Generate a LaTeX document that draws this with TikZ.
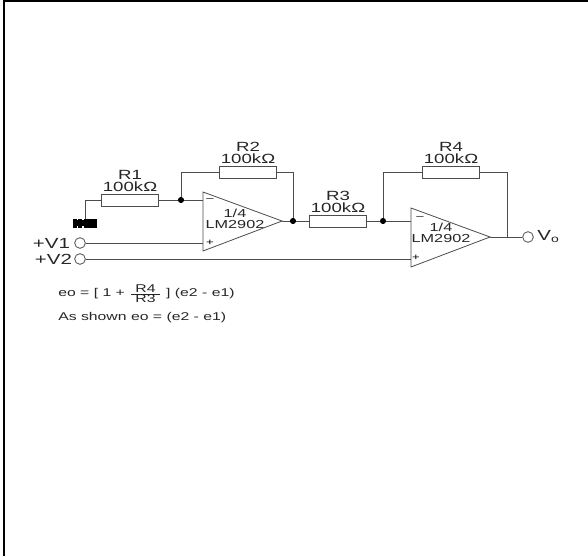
\documentclass[tikz,border=0pt]{standalone}
\usepackage{fontspec}
\setmainfont[FakeStretch=1.4]{Liberation Sans}
\usetikzlibrary{positioning, calc}
\tikzset{
    resistor/.style={
        rectangle,
        draw=black!70,
        line width=0.7pt,
        minimum width=43pt,
        minimum height=9pt,
        inner sep=0pt,
        fill=white
    },
    opamp/.style={
        draw=black!70,
        line width=0.6pt,
        fill=white
    },
    wire/.style={
        draw=black!70,
        line width=0.7pt
    },
    terminal/.style={
        circle,
        draw=black!70,
        line width=0.6pt,
        minimum size=8pt,
        inner sep=0pt,
        fill=white
    },
    junction/.style={
        circle,
        fill=black,
        minimum size=4.6pt,
        inner sep=0pt
    },
    reslabel/.style={
        font=\fontsize{10}{8.8}\selectfont,
        text=black!85,
        align=center,
        inner sep=0pt
    },
    amplabel/.style={
        font=\fontsize{8.7}{8.2}\selectfont,
        text=black!85,
        align=center,
        inner sep=0pt
    },
    pinlabel/.style={
        font=\fontsize{11}{11}\selectfont,
        text=black!85,
        inner sep=0pt
    },
    signlabel/.style={
        font=\fontsize{7}{7}\selectfont,
        inner sep=0pt
    },
    eqn/.style={
        font=\fontsize{8.45}{8.45}\selectfont,
        text=black!85,
        inner sep=0pt,
        anchor=west
    }
}
\begin{document}
\begin{tikzpicture}[x=0.75pt, y=-0.75pt]

% Frame
\path[use as bounding box] (0,0) rectangle (588,556);
\fill[black] (3,0) rectangle (5,556);
\fill[black] (3,0) rectangle (588,1.7);

% Resistors
\node[resistor] (r1) at (130,200) {};
\node[resistor] (r2) at (248,172) {};
\node[resistor] (r3) at (338,221) {};
\node[resistor] (r4) at (451,172) {};
\node[reslabel, above=1.6pt of r1] {R1\\100kΩ};
\node[reslabel, above=1.6pt of r2] {R2\\100kΩ};
\node[reslabel, above=1.6pt of r3] {R3\\100kΩ};
\node[reslabel, above=1.6pt of r4] {R4\\100kΩ};

% Op amps
\coordinate (oneminus) at (203,200);
\coordinate (oneplus) at (203,243);
\coordinate (oneout) at (282,221);
\coordinate (twominus) at (411,221);
\coordinate (twoplus) at (411,259);
\coordinate (twoout) at (490,237);
\draw[opamp] (203,192) -- (oneout) -- (203,251) -- cycle;
\draw[opamp] (411,208) -- (twoout) -- (411,267) -- cycle;
\node[amplabel] (amp1) at (235,218.5) {1/4\\LM2902};
\node[amplabel] (amp2) at (441,233) {1/4\\LM2902};
\node[signlabel] (m1) at (210,200) {–};
\node[signlabel] (p1) at (210,243) {+};
\node[signlabel] (m2) at (420,218) {–};
\node[signlabel] (p2) at (416,258) {+};

% Junctions
\node[junction] (j1) at (181,200) {};
\node[junction] (j2) at (293,221) {};
\node[junction] (j3) at (383,221) {};
\coordinate (j4) at (507,237);

% Terminals
\node[terminal] (v1) at (80,243) {};
\node[terminal] (v2) at (80,259) {};
\node[terminal] (vo) at (528,237) {};
\node[pinlabel, left=3pt of v1] (v1label) {+V1};
\node[pinlabel, left=1.5pt of v2] (v2label) {+V2};
\node[pinlabel, right=2.5pt of vo] (volabel) {V\raisebox{-1.5pt}{\fontsize{7.5}{7.5}\selectfont o}};

% Ground
\node[rectangle, fill=black, minimum width=18pt, minimum height=6.5pt, inner sep=0pt] (gnd) at (85,223.5) {};
\foreach \x in {3,7} {
    \fill[white] ([xshift=\x pt]gnd.south west) rectangle ++(1.5,-2.5);
    \fill[white] ([xshift=\x pt]gnd.north west) rectangle ++(1.5,1.5);
}

% Wires
\draw[wire] (gnd.north) |- (r1.west);
\draw[wire] (r1) -- (j1) -- (oneminus);
\draw[wire] (j1) |- (r2.west);
\draw[wire] (r2.east) -| (j2);
\draw[wire] (oneout) -- (j2) -- (r3);
\draw[wire] (r3) -- (j3) -- (twominus);
\draw[wire] (j3) |- (r4.west);
\draw[wire] (r4.east) -| (j4);
\draw[wire] (twoout) -- (vo);
\draw[wire] (v1) -- (oneplus);
\draw[wire] (v2) -- (twoplus);

% Equations
\node[eqn] (eq1) at (58,293.5) {eo = [ 1 + $\frac{\makebox[22pt]{R4}}{\makebox[22pt]{R3}}$ ] (e2 - e1)};
\node[eqn] (eq2) at (58,318) {As shown eo = (e2 - e1)};

\end{tikzpicture}
\end{document}
